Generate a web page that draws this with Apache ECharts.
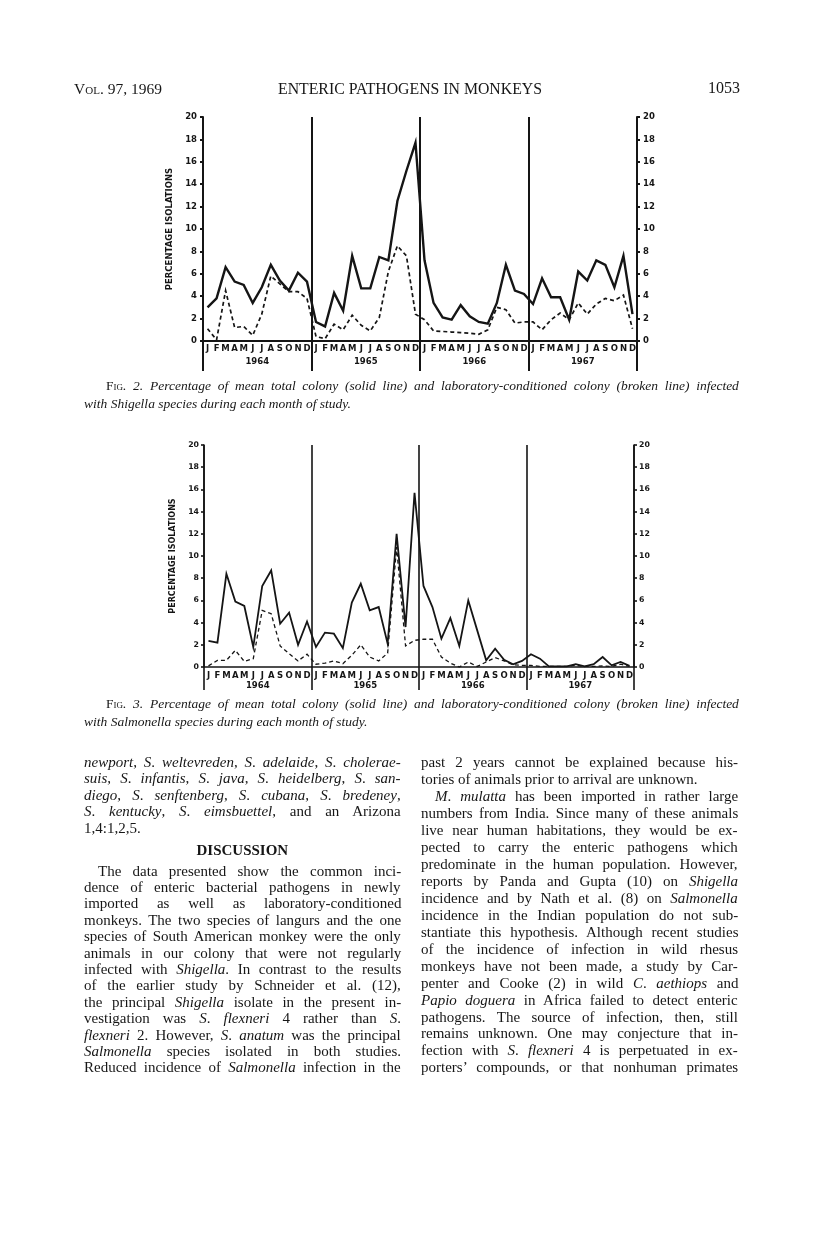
<!DOCTYPE html>
<html>
<head>
<meta charset="utf-8">
<script src="https://cdn.jsdelivr.net/npm/echarts/dist/echarts.min.js"></script>
<style>
  body { margin: 0; background: #fff; }
  #page { position: relative; width: 816px; height: 1260px; overflow: hidden; }
  #chart { position: absolute; left: 0; top: 0; width: 816px; height: 1260px; }
  .ln { position: absolute; font-family: "Liberation Serif", serif; white-space: nowrap; color: #161616; line-height: 1; font-size: 15px; }
  .cap { font-size: 13.5px; font-style: italic; }
  .sc { font-style: normal; font-variant: small-caps; }
</style>
</head>
<body>
<div id="page">
  <div id="chart"></div>
  <div id="text"></div>
</div>
<script>
// month letters and years along the bottom axis
const monthLetters = ['J', 'F', 'M', 'A', 'M', 'J', 'J', 'A', 'S', 'O', 'N', 'D'];
const years = ['1964', '1965', '1966', '1967'];

// Fig. 2 - Shigella, percent of colony per month (Jan 1964 .. Dec 1967)
const shigTotal = [
  3.0, 3.8, 6.6, 5.3, 5.0, 3.4, 4.8, 6.8, 5.4, 4.5, 6.1, 5.3,
  1.7, 1.3, 4.3, 2.7, 7.6, 4.7, 4.7, 7.5, 7.2, 12.5, 15.2, 17.7,
  7.2, 3.4, 2.1, 1.9, 3.2, 2.2, 1.7, 1.55, 3.4, 6.8, 4.5, 4.2,
  3.3, 5.6, 3.9, 3.9, 1.9, 6.2, 5.4, 7.2, 6.8, 4.8, 7.6, 2.4
];
const shigLab = [
  1.1, 0.1, 4.5, 1.2, 1.3, 0.5, 2.4, 5.8, 5.1, 4.4, 4.4, 3.8,
  0.4, 0.2, 1.5, 1.0, 2.3, 1.4, 0.9, 2.1, 6.2, 8.5, 7.6, 2.4,
  1.9, 0.9, 0.85, 0.8, 0.75, 0.7, 0.6, 1.0, 3.0, 2.8, 1.6, 1.7,
  1.7, 1.0, 1.9, 2.5, 1.9, 3.4, 2.4, 3.3, 3.8, 3.6, 4.1, 1.1
];

// Fig. 3 - Salmonella
const salTotal = [
  2.35, 2.2, 8.4, 5.9, 5.5, 1.8, 7.3, 8.7, 3.9, 4.9, 2.0, 4.1,
  1.8, 3.1, 3.0, 1.7, 5.8, 7.5, 5.1, 5.4, 2.1, 12.0, 3.6, 15.7,
  7.3, 5.4, 2.55, 4.4, 1.9, 6.0, 3.3, 0.6, 1.65, 0.65, 0.25, 0.55,
  1.15, 0.75, 0.05, 0.05, 0.05, 0.25, 0.05, 0.25, 0.9, 0.15, 0.45, 0.1
];
const salLab = [
  0.1, 0.6, 0.6, 1.5, 0.5, 0.75, 5.1, 4.8, 1.9, 1.2, 0.55, 1.15,
  0.25, 0.35, 0.55, 0.3, 1.05, 2.0, 0.9, 0.55, 1.25, 10.8, 1.9, 2.4,
  2.5, 2.5, 0.9, 0.35, 0.0, 0.45, 0.05, 0.45, 0.85, 0.55, 0.2, 0.15,
  0.15, 0.05, 0.05, 0.05, 0.05, 0.15, 0.05, 0.05, 0.1, 0.05, 0.25, 0.05
];

const yMin = 0, yMax = 20, yStep = 2;
const yName = 'PERCENTAGE ISOLATIONS';

// one category per month, label shows only the letter
const monthCats = [];
years.forEach(y => monthLetters.forEach((m, i) => monthCats.push(y + '-' + i)));

const ink = '#151515';

function panel(idx, heavy) {
  const lw = heavy ? 2 : 1.6;
  const labelFont = { fontFamily: 'DejaVu Sans', fontWeight: 'bold', color: ink };
  const xs = [
    {
      gridIndex: idx, type: 'category', data: monthCats, boundaryGap: true,
      axisLine: { lineStyle: { color: ink, width: lw } },
      axisTick: { show: false },
      axisLabel: {
        ...labelFont, interval: 0, fontSize: 8.5, margin: heavy ? 3 : 4,
        formatter: v => monthLetters[+v.split('-')[1]]
      }
    },
    {
      gridIndex: idx, type: 'category', data: years, boundaryGap: true, position: 'bottom',
      axisLine: { show: false },
      axisTick: { show: true, interval: 0, length: heavy ? 30 : 23, lineStyle: { color: ink, width: lw } },
      splitLine: { show: true, interval: 0, lineStyle: { color: ink, width: lw } },
      axisLabel: { ...labelFont, fontSize: 8.5, margin: heavy ? 16 : 14 }
    }
  ];
  const yBase = {
    gridIndex: idx, type: 'value', min: yMin, max: yMax, interval: yStep,
    axisLine: { show: true, lineStyle: { color: ink, width: lw } },
    axisTick: { show: true, length: 3, lineStyle: { color: ink, width: lw } },
    splitLine: { show: false },
    axisLabel: { ...labelFont, fontSize: heavy ? 8.5 : 7.8, margin: heavy ? 6 : 5 }
  };
  const ys = [
    {
      ...yBase, position: 'left',
      name: yName, nameLocation: 'middle', nameRotate: 90, nameGap: heavy ? 23 : 21,
      nameTextStyle: { ...labelFont, fontSize: heavy ? 8.5 : 8 }
    },
    { ...yBase, position: 'right' }
  ];
  return { xs, ys };
}

const p1 = panel(0, true);
const p2 = panel(1, false);

function lineSeries(data, xi, yi, dashed, width) {
  return {
    type: 'line', data, xAxisIndex: xi, yAxisIndex: yi,
    symbol: 'none', silent: true,
    lineStyle: { color: ink, width, type: dashed ? [4, 3] : 'solid', join: 'miter' }
  };
}

const chart = echarts.init(document.getElementById('chart'), null, { renderer: 'canvas' });
chart.setOption({
  animation: false,
  backgroundColor: '#fff',
  grid: [
    { left: 203, top: 117, width: 434, height: 224 },
    { left: 204, top: 445, width: 430, height: 222 }
  ],
  xAxis: [...p1.xs, ...p2.xs],
  yAxis: [...p1.ys, ...p2.ys],
  series: [
    lineSeries(shigLab, 0, 0, true, 1.7),
    lineSeries(shigTotal, 0, 0, false, 2.4),
    lineSeries(salLab, 2, 2, true, 1.3),
    lineSeries(salTotal, 2, 2, false, 1.8)
  ]
});

// ---- page text ----
const textBox = document.getElementById('text');
function put(html, x, y, w, opts) {
  const d = document.createElement('div');
  d.className = 'ln' + (opts && opts.cls ? ' ' + opts.cls : '');
  d.innerHTML = html;
  d.style.left = x + 'px';
  d.style.top = y + 'px';
  if (opts && opts.size) d.style.fontSize = opts.size + 'px';
  textBox.appendChild(d);
  if (opts && opts.center) {
    d.style.left = (x - d.offsetWidth / 2) + 'px';
  } else if (opts && opts.right) {
    d.style.left = (x - d.offsetWidth) + 'px';
  } else if (w) {
    // justify the line to width w
    const nat = d.offsetWidth;
    const spaces = (d.textContent.match(/ /g) || []).length;
    if (nat > w) {
      d.style.letterSpacing = ((w - nat) / d.textContent.length) + 'px';
    } else if (spaces) {
      d.style.wordSpacing = ((w - nat) / spaces) + 'px';
    }
  }
  return d;
}

const colL = 84, colR = 421, colW = 317;
put('V<span style="font-variant:small-caps">ol</span>. 97, 1969', 74, 81, 0, { size: 15.5 });
put('ENTERIC PATHOGENS IN MONKEYS', 410, 81, 0, { center: true, size: 15.8 });
put('1053', 740, 80, 0, { right: true, size: 16 });

const capW = 655;
put('<span class="sc">Fig</span>. 2. <i>Percentage of mean total colony (solid line) and laboratory-conditioned colony (broken line) infected</i>',
  colL + 22, 379, capW - 22, { cls: 'cap' });
put('<i>with Shigella species during each month of study.</i>', colL, 397, 0, { cls: 'cap' });
put('<span class="sc">Fig</span>. 3. <i>Percentage of mean total colony (solid line) and laboratory-conditioned colony (broken line) infected</i>',
  colL + 22, 697, capW - 22, { cls: 'cap' });
put('<i>with Salmonella species during each month of study.</i>', colL, 715, 0, { cls: 'cap' });

const pitch = 16.4;
const top0 = 755;
const leftLines = [
  ['<i>newport</i>, <i>S</i>. <i>weltevreden</i>, <i>S</i>. <i>adelaide</i>, <i>S</i>. <i>cholerae-</i>', 0, 1],
  ['<i>suis</i>, <i>S</i>. <i>infantis</i>, <i>S</i>. <i>java</i>, <i>S</i>. <i>heidelberg</i>, <i>S</i>. <i>san-</i>', 0, 1],
  ['<i>diego</i>, <i>S</i>. <i>senftenberg</i>, <i>S</i>. <i>cubana</i>, <i>S</i>. <i>bredeney</i>,', 0, 1],
  ['<i>S</i>. <i>kentucky</i>, <i>S</i>. <i>eimsbuettel</i>, and an Arizona', 0, 1],
  ['1,4:1,2,5.', 0, 0],
  null,
  ['The data presented show the common inci-', 1, 1],
  ['dence of enteric bacterial pathogens in newly', 0, 1],
  ['imported as well as laboratory-conditioned', 0, 1],
  ['monkeys. The two species of langurs and the one', 0, 1],
  ['species of South American monkey were the only', 0, 1],
  ['animals in our colony that were not regularly', 0, 1],
  ['infected with <i>Shigella</i>. In contrast to the results', 0, 1],
  ['of the earlier study by Schneider et al. (12),', 0, 1],
  ['the principal <i>Shigella</i> isolate in the present in-', 0, 1],
  ['vestigation was <i>S</i>. <i>flexneri</i> 4 rather than <i>S</i>.', 0, 1],
  ['<i>flexneri</i> 2. However, <i>S</i>. <i>anatum</i> was the principal', 0, 1],
  ['<i>Salmonella</i> species isolated in both studies.', 0, 1],
  ['Reduced incidence of <i>Salmonella</i> infection in the', 0, 1]
];
const rightLines = [
  ['past 2 years cannot be explained because his-', 0, 1],
  ['tories of animals prior to arrival are unknown.', 0, 0],
  ['<i>M</i>. <i>mulatta</i> has been imported in rather large', 1, 1],
  ['numbers from India. Since many of these animals', 0, 1],
  ['live near human habitations, they would be ex-', 0, 1],
  ['pected to carry the enteric pathogens which', 0, 1],
  ['predominate in the human population. However,', 0, 1],
  ['reports by Panda and Gupta (10) on <i>Shigella</i>', 0, 1],
  ['incidence and by Nath et al. (8) on <i>Salmonella</i>', 0, 1],
  ['incidence in the Indian population do not sub-', 0, 1],
  ['stantiate this hypothesis. Although recent studies', 0, 1],
  ['of the incidence of infection in wild rhesus', 0, 1],
  ['monkeys have not been made, a study by Car-', 0, 1],
  ['penter and Cooke (2) in wild <i>C</i>. <i>aethiops</i> and', 0, 1],
  ['<i>Papio doguera</i> in Africa failed to detect enteric', 0, 1],
  ['pathogens. The source of infection, then, still', 0, 1],
  ['remains unknown. One may conjecture that in-', 0, 1],
  ['fection with <i>S</i>. <i>flexneri</i> 4 is perpetuated in ex-', 0, 1],
  ['porters\u2019 compounds, or that nonhuman primates', 0, 1]
];

const indent = 14;
let y = top0;
leftLines.forEach((l, i) => {
  if (l === null) {
    put('<b>DISCUSSION</b>', colL + colW / 2, y + 3, 0, { center: true });
    y += 24;
    return;
  }
  const x = colL + (l[1] ? indent : 0);
  put(l[0], x, y, l[2] ? colW - (l[1] ? indent : 0) : 0);
  y += (i === 4) ? 19 : pitch;
});
const rPitch = (y - pitch - top0) / (rightLines.length - 1);
rightLines.forEach((l, i) => {
  const x = colR + (l[1] ? indent : 0);
  put(l[0], x, top0 + i * rPitch, l[2] ? colW - (l[1] ? indent : 0) : 0);
});
</script>
</body>
</html>
